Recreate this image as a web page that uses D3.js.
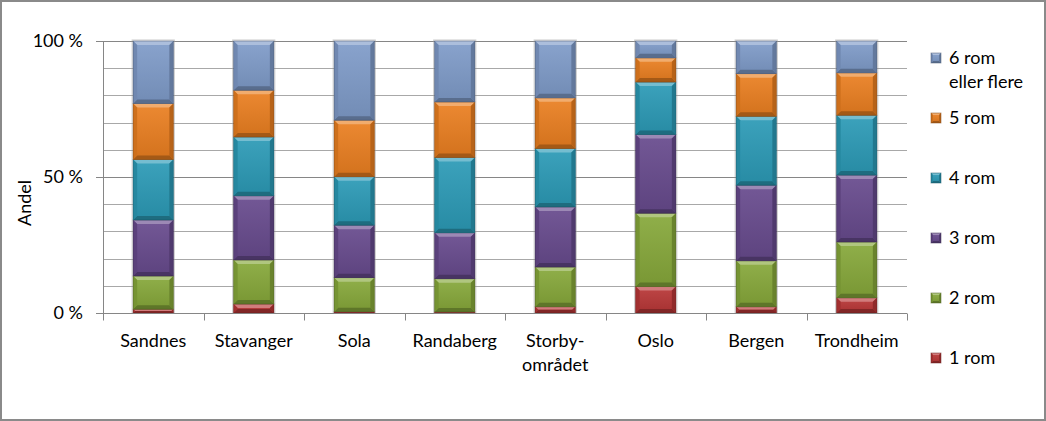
<!DOCTYPE html>
<html>
<head>
<meta charset="utf-8">
<script src="https://cdn.jsdelivr.net/npm/d3@7"></script>
<style>
  body { margin: 0; background: #fff; }
  svg text { font-family: Lato, "Open Sans", sans-serif; fill: #000; }
</style>
</head>
<body>
<svg id="chart" width="1046" height="421"></svg>
<script>
// data (andel i prosent)
var categories = ["Sandnes", "Stavanger", "Sola", "Randaberg", "Storby-området", "Oslo", "Bergen", "Trondheim"];
var rom1 = [1.4, 3.3, 0.5, 0.4, 2.3, 9.7, 2.3, 5.6];
var rom2 = [12.2, 16.2, 12.5, 12.2, 14.6, 27.0, 16.9, 20.5];
var rom3 = [20.6, 23.6, 19.3, 16.9, 22.1, 28.9, 27.8, 24.6];
var rom4 = [22.2, 21.6, 17.8, 27.7, 21.5, 19.3, 25.3, 22.0];
var rom5 = [20.6, 17.2, 20.8, 20.4, 18.6, 8.9, 15.7, 15.6];
var rom6 = [23.0, 18.1, 29.1, 22.4, 20.9, 6.2, 12.0, 11.7];
var seriesNames = ["1 rom", "2 rom", "3 rom", "4 rom", "5 rom", "6 rom eller flere"];
var yTicks = [0, 50, 100];

var seriesValues = [rom1, rom2, rom3, rom4, rom5, rom6];
var colors = ["#b83636", "#86a83a", "#674a8d", "#2b9ab6", "#ea7f20", "#7f9bc9"];

var svg = d3.select("#chart");
var margin = {top: 41, right: 139, bottom: 108, left: 103},
    width = 1046 - margin.left - margin.right,
    height = 421 - margin.top - margin.bottom;

svg.append("rect").attr("x", 0).attr("y", 0).attr("width", 1046).attr("height", 421).attr("fill", "#fff");
svg.append("rect").attr("x", 1).attr("y", 1).attr("width", 1044).attr("height", 419)
    .attr("fill", "none").attr("stroke", "#8a8a8a").attr("stroke-width", 2);

var x = d3.scaleBand().domain(categories).range([0, width]).paddingInner(0.6).paddingOuter(0.3);
var y = d3.scaleLinear().domain([0, 100]).range([height, 0]);

var g = svg.append("g").attr("transform", "translate(" + margin.left + "," + margin.top + ")");

// gridlines every 10 %
g.append("g").selectAll("line").data(d3.range(10, 101, 10))
  .enter().append("line")
    .attr("x1", 0).attr("x2", width)
    .attr("y1", function(d) { return Math.round(y(d)) + 0.5; })
    .attr("y2", function(d) { return Math.round(y(d)) + 0.5; })
    .attr("stroke", function(d) { return d % 50 == 0 ? "#868686" : "#a8a8a8"; })
    .attr("stroke-width", 1);

// stacked data
var rows = categories.map(function(c, i) {
  var row = {cat: c};
  seriesNames.forEach(function(s, j) { row[s] = seriesValues[j][i]; });
  return row;
});
var stack = d3.stack().keys(seriesNames);
var layers = stack(rows);

function shade(col, k) {
  return k > 0 ? d3.interpolateRgb(col, "#fff")(k) : d3.interpolateRgb(col, "#000")(-k);
}

var defs = svg.append("defs");
colors.forEach(function(c, i) {
  var grad = defs.append("linearGradient").attr("id", "grad" + i)
    .attr("x1", 0).attr("y1", 0).attr("x2", 0).attr("y2", 1);
  grad.append("stop").attr("offset", "0%").attr("stop-color", shade(c, 0.08));
  grad.append("stop").attr("offset", "100%").attr("stop-color", shade(c, -0.1));
});

// bevelled box like the excel look
function bevelBox(sel, x0, y0, w, h, i, bv) {
  var c = colors[i];
  var b = Math.min(bv, h / 2, w / 2);
  sel.append("rect").attr("x", x0).attr("y", y0).attr("width", w).attr("height", h)
    .attr("fill", "url(#grad" + i + ")");
  var pts = function(a) { return a.map(function(p) { return p.join(","); }).join(" "); };
  sel.append("polygon").attr("fill", shade(c, 0.35))
    .attr("points", pts([[x0, y0], [x0 + w, y0], [x0 + w - b, y0 + b], [x0 + b, y0 + b]]));
  sel.append("polygon").attr("fill", shade(c, -0.3))
    .attr("points", pts([[x0, y0 + h], [x0 + w, y0 + h], [x0 + w - b, y0 + h - b], [x0 + b, y0 + h - b]]));
  sel.append("polygon").attr("fill", shade(c, -0.12))
    .attr("points", pts([[x0, y0], [x0 + b, y0 + b], [x0 + b, y0 + h - b], [x0, y0 + h]]));
  sel.append("polygon").attr("fill", shade(c, -0.22))
    .attr("points", pts([[x0 + w, y0], [x0 + w - b, y0 + b], [x0 + w - b, y0 + h - b], [x0 + w, y0 + h]]));
  sel.append("rect").attr("x", x0).attr("y", y0).attr("width", w).attr("height", h)
    .attr("fill", "none").attr("stroke", shade(c, -0.45)).attr("stroke-opacity", 0.6).attr("stroke-width", 0.8);
}

// soft shadow behind each bar
g.append("g").selectAll("rect").data(categories)
  .enter().append("rect")
    .attr("x", function(d) { return x(d) - 1; })
    .attr("y", y(100) - 1)
    .attr("width", x.bandwidth() + 2)
    .attr("height", height + 1)
    .attr("fill", "none").attr("stroke", "#999").attr("stroke-opacity", 0.5);

layers.forEach(function(layer, i) {
  var lg = g.append("g").attr("class", "layer");
  layer.forEach(function(d) {
    var y0 = y(d[1]), y1 = y(d[0]);
    bevelBox(lg, x(d.data.cat), y0, x.bandwidth(), y1 - y0, i, 4);
  });
});

// axes
g.append("line").attr("x1", 0.5).attr("x2", 0.5).attr("y1", 0).attr("y2", height)
  .attr("stroke", "#868686");
g.append("line").attr("x1", 0).attr("x2", width).attr("y1", height + 0.5).attr("y2", height + 0.5)
  .attr("stroke", "#868686");

var xAxis = g.append("g").attr("transform", "translate(0," + (height + 0.5) + ")");
d3.range(0, categories.length + 1).forEach(function(k) {
  var xx = Math.round(k * x.step()) + 0.5;
  xAxis.append("line").attr("x1", xx).attr("x2", xx).attr("y1", 0).attr("y2", 7).attr("stroke", "#868686");
});
categories.forEach(function(c) {
  var parts = c.indexOf("-") > 0 ? [c.split("-")[0] + "-", c.split("-")[1]] : [c];
  var t = xAxis.append("text").attr("text-anchor", "middle")
    .attr("x", x(c) + x.bandwidth() / 2).attr("y", 33)
    .style("font-size", "18px");
  parts.forEach(function(p, k) {
    t.append("tspan").attr("x", x(c) + x.bandwidth() / 2).attr("dy", k == 0 ? 0 : 24).text(p);
  });
});

var yAxis = g.append("g");
yTicks.forEach(function(v) {
  yAxis.append("line").attr("x1", -7).attr("x2", 0)
    .attr("y1", Math.round(y(v)) + 0.5).attr("y2", Math.round(y(v)) + 0.5).attr("stroke", "#868686");
  yAxis.append("text").attr("text-anchor", "end").attr("x", -20).attr("y", y(v) + 6)
    .style("font-size", "18px").text(v + " %");
});

svg.append("text").attr("transform", "translate(31," + 203 + ") rotate(-90)")
  .attr("text-anchor", "middle").style("font-size", "18px").text("Andel");

// legend, top = 6 rom
var legend = svg.append("g").attr("transform", "translate(931,0)");
var legendY = [58, 118, 178, 238, 298, 358];
seriesNames.slice().reverse().forEach(function(s, k) {
  var i = seriesNames.length - 1 - k;
  var ly = legendY[k];
  var item = legend.append("g");
  bevelBox(item, 0, ly - 5, 10, 10, i, 2);
  var t = item.append("text").attr("x", 18).attr("y", ly + 6).style("font-size", "18px");
  if (s == "6 rom eller flere") {
    t.append("tspan").attr("x", 18).text("6 rom");
    t.append("tspan").attr("x", 18).attr("dy", 24).text("eller flere");
  } else {
    t.text(s);
  }
});
</script>
</body>
</html>
